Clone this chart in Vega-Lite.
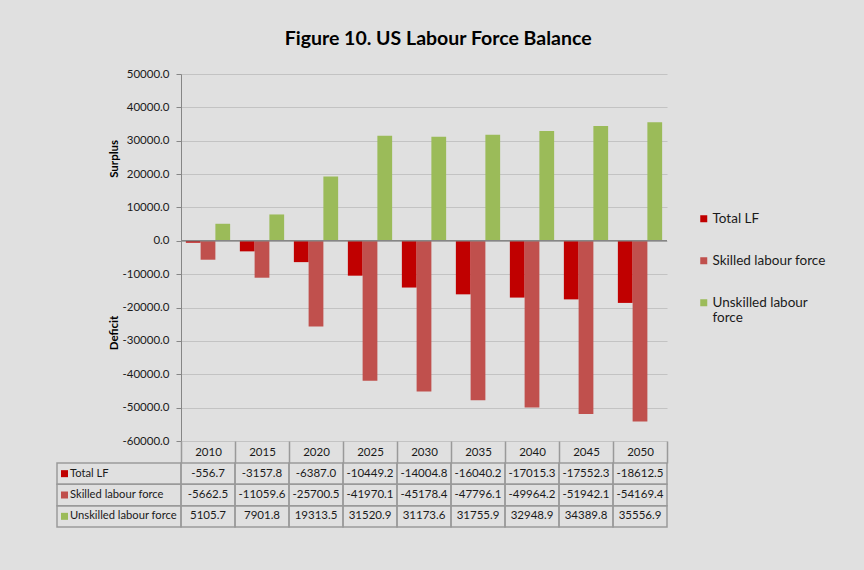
{
  "$schema": "https://vega.github.io/schema/vega-lite/v6.json",
  "background": "#e0e0e0",
  "padding": {"left": 56, "top": 28, "right": 42, "bottom": 54},
  "config": {
    "font": "Lato",
    "view": {"stroke": null},
    "locale": {"number": {"decimal": ".", "thousands": ",", "grouping": [3], "currency": ["$", ""], "minus": "-"}}
  },
  "title": {"text": "Figure 10. US Labour Force Balance", "font": "Lato", "fontSize": 19.5, "fontWeight": "bold", "color": "#000000", "anchor": "middle", "offset": 19, "dx": -3},
  "datasets": {
    "lf": [
      {"year": "2010", "series": "Total LF", "value": -556.7},
      {"year": "2010", "series": "Skilled labour force", "value": -5662.5},
      {"year": "2010", "series": "Unskilled labour force", "value": 5105.7},
      {"year": "2015", "series": "Total LF", "value": -3157.8},
      {"year": "2015", "series": "Skilled labour force", "value": -11059.6},
      {"year": "2015", "series": "Unskilled labour force", "value": 7901.8},
      {"year": "2020", "series": "Total LF", "value": -6387.0},
      {"year": "2020", "series": "Skilled labour force", "value": -25700.5},
      {"year": "2020", "series": "Unskilled labour force", "value": 19313.5},
      {"year": "2025", "series": "Total LF", "value": -10449.2},
      {"year": "2025", "series": "Skilled labour force", "value": -41970.1},
      {"year": "2025", "series": "Unskilled labour force", "value": 31520.9},
      {"year": "2030", "series": "Total LF", "value": -14004.8},
      {"year": "2030", "series": "Skilled labour force", "value": -45178.4},
      {"year": "2030", "series": "Unskilled labour force", "value": 31173.6},
      {"year": "2035", "series": "Total LF", "value": -16040.2},
      {"year": "2035", "series": "Skilled labour force", "value": -47796.1},
      {"year": "2035", "series": "Unskilled labour force", "value": 31755.9},
      {"year": "2040", "series": "Total LF", "value": -17015.3},
      {"year": "2040", "series": "Skilled labour force", "value": -49964.2},
      {"year": "2040", "series": "Unskilled labour force", "value": 32948.9},
      {"year": "2045", "series": "Total LF", "value": -17552.3},
      {"year": "2045", "series": "Skilled labour force", "value": -51942.1},
      {"year": "2045", "series": "Unskilled labour force", "value": 34389.8},
      {"year": "2050", "series": "Total LF", "value": -18612.5},
      {"year": "2050", "series": "Skilled labour force", "value": -54169.4},
      {"year": "2050", "series": "Unskilled labour force", "value": 35556.9}
    ],
    "rows": [
      {"series": "Total LF"},
      {"series": "Skilled labour force"},
      {"series": "Unskilled labour force"}
    ]
  },
  "bounds": "flush",
  "spacing": 22,
  "resolve": {"scale": {"color": "independent"}, "legend": {"color": "independent"}},
  "vconcat": [
    {
      "width": 486,
      "height": 367,
      "layer": [
        {
          "data": {"name": "lf"},
          "mark": {"type": "bar"},
          "encoding": {
            "x": {"field": "year", "type": "nominal", "scale": {"paddingInner": 0.18, "paddingOuter": 0.09}, "axis": null},
            "xOffset": {"field": "series", "type": "nominal", "sort": ["Total LF", "Skilled labour force", "Unskilled labour force"]},
            "y": {
              "field": "value", "type": "quantitative",
              "scale": {"domain": [-60000, 50000], "nice": false, "zero": false},
              "axis": {
                "values": [-60000, -50000, -40000, -30000, -20000, -10000, 0, 10000, 20000, 30000, 40000, 50000],
                "tickCount": 12,
                "format": ".1f",
                "labelOverlap": false,
                "title": "\u200b\u2003\u2003\u2003Deficit\u2003\u2003\u2003\u2003\u2003\u2003\u2003\u2003\u2003\u2003\u2003\u2003\u2003\u2003\u2003\u2003Surplus",
                "titleFontWeight": "bold", "titleFontSize": 11.5, "titleColor": "#000000", "titlePadding": 2,
                "labelFontSize": 11.5, "labelColor": "#1a1a1a", "labelPadding": 7,
                "tickSize": 5, "tickColor": "#868686", "domainColor": "#868686",
                "grid": true, "gridColor": "#c3c3c3"
              }
            },
            "color": {
              "field": "series", "type": "nominal",
              "scale": {"domain": ["Total LF", "Skilled labour force", "Unskilled labour force"], "range": ["#c00000", "#c0504d", "#9bbb59"]},
              "legend": {
                "title": null, "orient": "none", "legendX": 516, "legendY": 138,
                "symbolType": "square", "symbolSize": 49, "symbolStrokeWidth": 0,
                "labelFontSize": 13.5, "labelColor": "#1a1a1a", "labelOffset": 2,
                "rowPadding": 27, "padding": 0, "labelLimit": 300,
                "labelExpr": "datum.label == 'Unskilled labour force' ? ['Unskilled labour', 'force'] : datum.label"
              }
            }
          }
        },
        {
          "data": {"values": [{}]},
          "mark": {"type": "rule", "color": "#868686", "strokeWidth": 1.5},
          "encoding": {"y": {"datum": 0}}
        }
      ]
    },
    {
      "width": 486,
      "height": 64,
      "layer": [
        {
          "data": {"name": "lf"},
          "layer": [
            {
              "mark": {"type": "rect", "fill": "transparent", "stroke": "#9a9a9a", "strokeWidth": 1.5},
              "encoding": {
                "x": {
                  "field": "year", "type": "nominal", "scale": {"paddingInner": 0, "paddingOuter": 0},
                  "axis": {"orient": "top", "title": null, "tickBand": "extent", "tickSize": 22, "tickWidth": 1.5, "tickColor": "#9a9a9a", "domain": false, "grid": false, "labelPadding": -11, "labelBaseline": "middle", "labelAngle": 0, "labelFontSize": 11.5, "labelColor": "#1a1a1a"}
                },
                "y": {"field": "series", "type": "nominal", "sort": ["Total LF", "Skilled labour force", "Unskilled labour force"], "scale": {"paddingInner": 0, "paddingOuter": 0}, "axis": null}
              }
            },
            {
              "mark": {"type": "text", "fontSize": 11.5, "color": "#1a1a1a"},
              "encoding": {
                "x": {"field": "year", "type": "nominal"},
                "y": {"field": "series", "type": "nominal", "sort": ["Total LF", "Skilled labour force", "Unskilled labour force"]},
                "text": {"field": "value", "type": "quantitative", "format": ".1f"}
              }
            }
          ]
        },
        {
          "data": {"name": "rows"},
          "layer": [
            {
              "mark": {"type": "rect", "fill": "transparent", "stroke": "#9a9a9a", "strokeWidth": 1.5},
              "encoding": {
                "x": {"datum": "label", "type": "nominal", "scale": {"range": [-124, 0], "paddingInner": 0, "paddingOuter": 0}, "axis": null},
                "y": {"field": "series", "type": "nominal", "sort": ["Total LF", "Skilled labour force", "Unskilled labour force"]}
              }
            },
            {
              "mark": {"type": "square", "size": 49, "opacity": 1, "filled": true, "xOffset": 7.5},
              "encoding": {
                "x": {"datum": "label", "type": "nominal", "bandPosition": 0},
                "y": {"field": "series", "type": "nominal", "sort": ["Total LF", "Skilled labour force", "Unskilled labour force"]},
                "color": {"field": "series", "type": "nominal", "scale": {"domain": ["Total LF", "Skilled labour force", "Unskilled labour force"], "range": ["#c00000", "#c0504d", "#9bbb59"]}, "legend": null}
              }
            },
            {
              "mark": {"type": "text", "align": "left", "dx": 13, "fontSize": 11.2, "color": "#1a1a1a"},
              "encoding": {
                "x": {"datum": "label", "type": "nominal", "bandPosition": 0},
                "y": {"field": "series", "type": "nominal", "sort": ["Total LF", "Skilled labour force", "Unskilled labour force"]},
                "text": {"field": "series", "type": "nominal"}
              }
            }
          ]
        }
      ],
      "resolve": {"scale": {"x": "independent"}}
    }
  ]
}
